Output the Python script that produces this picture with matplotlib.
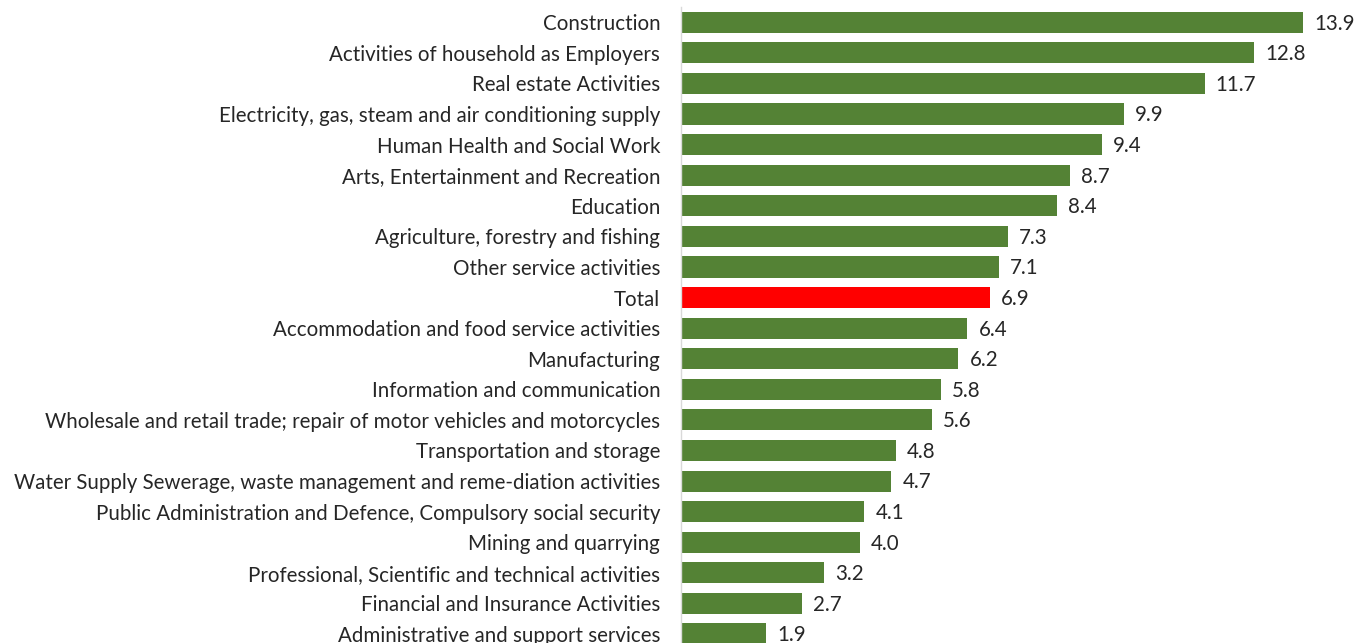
import matplotlib.pyplot as plt

# Sectors, top to bottom, with their values
sectors = [
    "Construction",
    "Activities of household as Employers",
    "Real estate Activities",
    "Electricity, gas, steam and air conditioning supply",
    "Human Health and Social Work",
    "Arts, Entertainment and Recreation",
    "Education",
    "Agriculture, forestry and fishing",
    "Other service activities",
    "Total",
    "Accommodation and food service activities",
    "Manufacturing",
    "Information and communication",
    "Wholesale and retail trade; repair of motor vehicles and motorcycles",
    "Transportation and storage",
    "Water Supply Sewerage, waste management and reme-diation activities",
    "Public Administration and Defence, Compulsory social security",
    "Mining and quarrying",
    "Professional, Scientific and technical activities",
    "Financial and Insurance Activities",
    "Administrative and support services",
]
values = [13.9, 12.8, 11.7, 9.9, 9.4, 8.7, 8.4, 7.3, 7.1, 6.9, 6.4,
          6.2, 5.8, 5.6, 4.8, 4.7, 4.1, 4.0, 3.2, 2.7, 1.9]

green = "#548235"
red = "#ff0000"
text_col = "#262626"
fsize = 14.8

plt.rcParams['font.family'] = ['Lato', 'DejaVu Sans']

fig = plt.figure(figsize=(13.65, 6.43), dpi=100)
ax = fig.add_axes([681 / 1365, 0, 684 / 1365, 1 - 7 / 643])

pos = list(range(len(sectors)))
colors = [red if s == "Total" else green for s in sectors]
ax.barh(pos, values, height=0.69, color=colors)

# value labels just past the bar ends
for p, v in zip(pos, values):
    ax.annotate(f"{v:.1f}", (v, p), xytext=(8, -1), textcoords="offset points",
                va="center", ha="left", fontsize=fsize, color=text_col)

ax.set_yticks(pos)
ax.set_yticklabels(sectors, fontsize=fsize, color=text_col)
ax.tick_params(axis="y", length=0, pad=15)
ax.set_xticks([])

ax.set_xlim(0, 684 / 44.75)
ax.set_ylim(len(sectors) - 1 + 9 / 30.6, -0.5)

for side in ["top", "right", "bottom"]:
    ax.spines[side].set_visible(False)
ax.spines["left"].set_color("#d9d9d9")
ax.spines["left"].set_linewidth(1)

fig.savefig("out.png", dpi=100)
